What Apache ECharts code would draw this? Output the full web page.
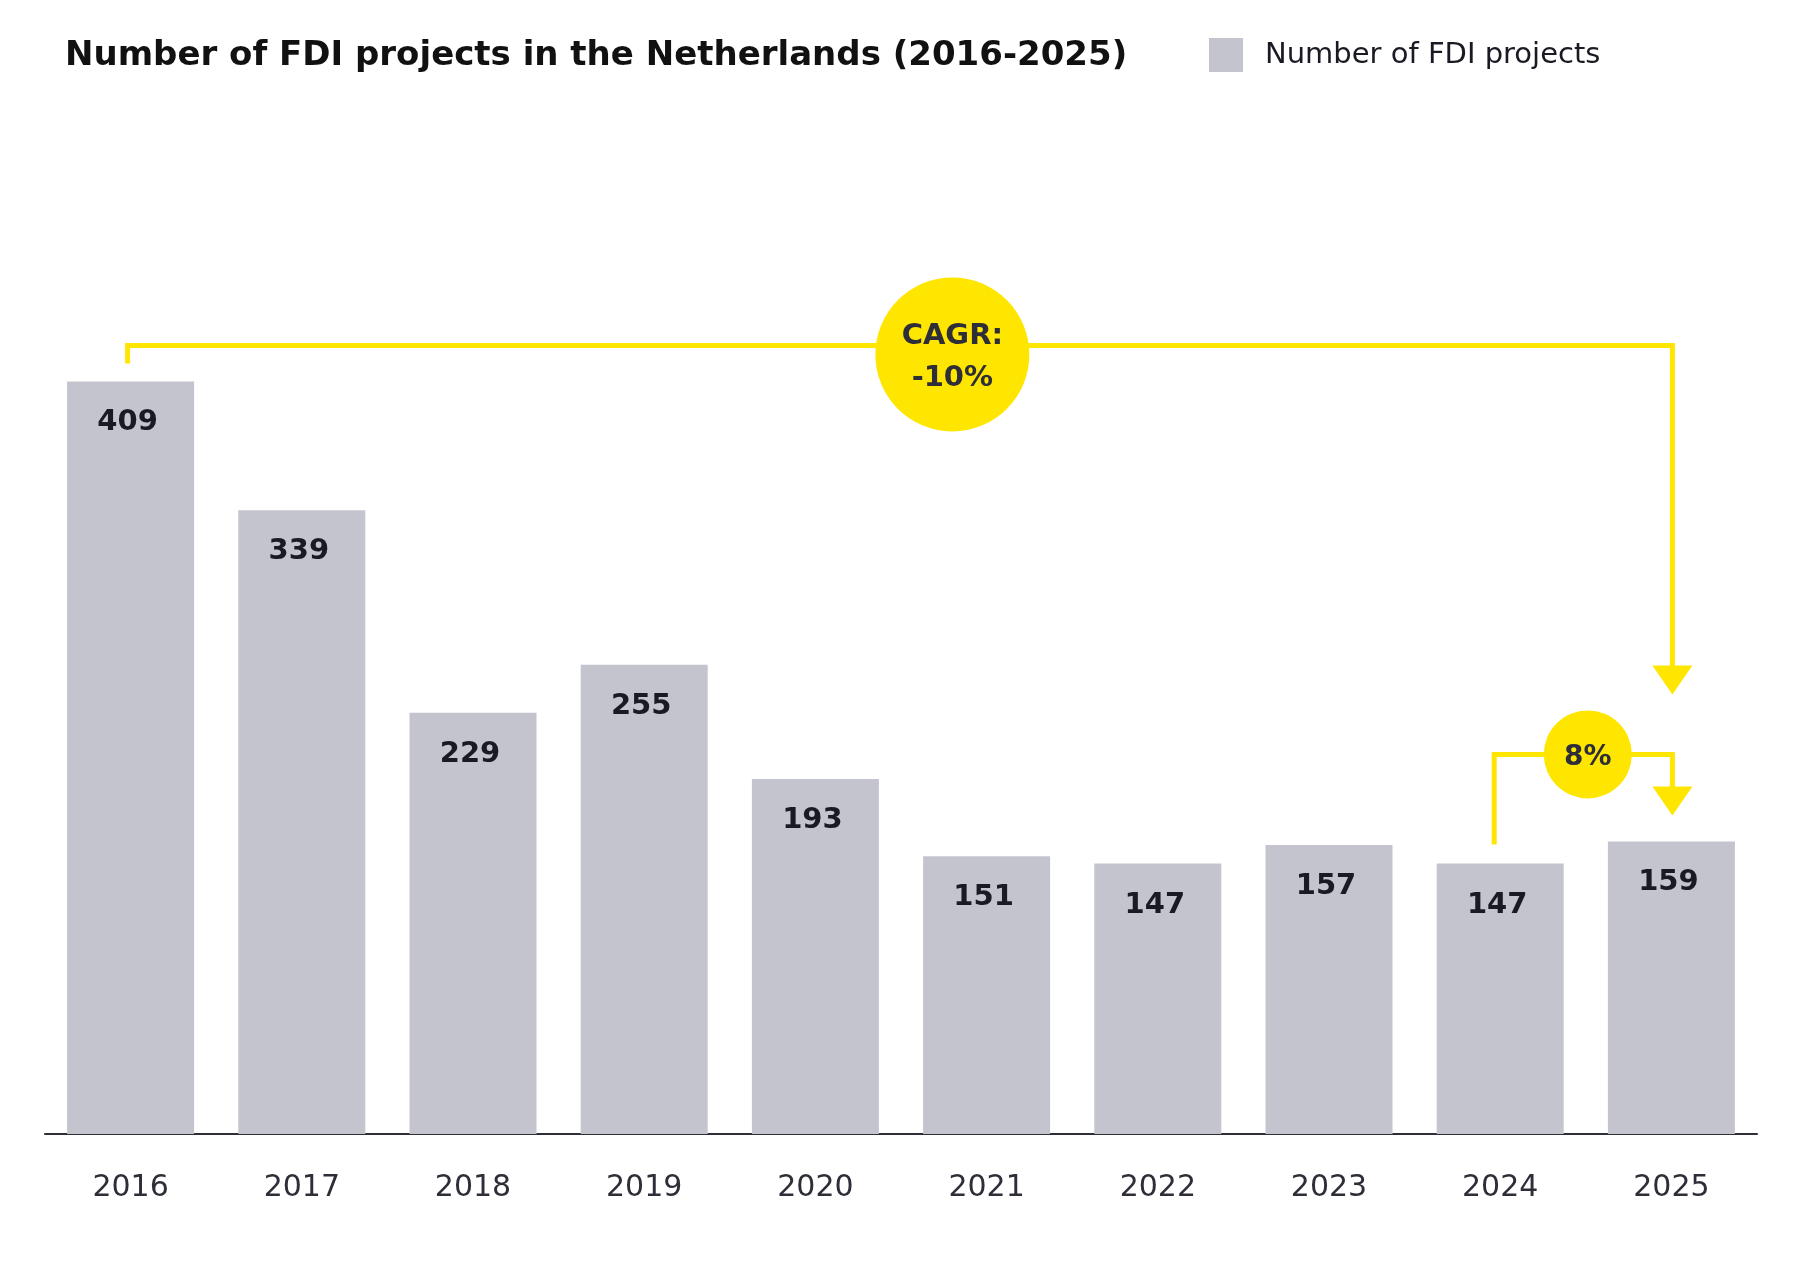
<!DOCTYPE html>
<html>
<head>
<meta charset="utf-8">
<title>FDI projects in the Netherlands</title>
<script src="https://cdn.jsdelivr.net/npm/echarts@6/dist/echarts.min.js"></script>
<style>
  html, body { margin: 0; padding: 0; background: #fff; }
  #chart { width: 1802px; height: 1261px; }
</style>
</head>
<body>
<div id="chart"></div>
<script>
// data
var years = ['2016', '2017', '2018', '2019', '2020', '2021', '2022', '2023', '2024', '2025'];
var fdiProjects = [409, 339, 229, 255, 193, 151, 147, 157, 147, 159];
var cagrText = ['CAGR:', '-10%'];
var yoyText = '8%';

var yellow = '#ffe600';
var dark = '#2e2e38';

var chart = echarts.init(document.getElementById('chart'));

var option = {
  backgroundColor: '#ffffff',
  animation: false,
  title: {
    text: 'Number of FDI projects in the Netherlands (2016-2025)',
    left: 65,
    top: 39,
    padding: 0,
    textStyle: {
      fontFamily: 'DejaVu Sans',
      fontWeight: 'bold',
      fontSize: 34,
      color: '#111111'
    }
  },
  // 图例
  legend: {
    data: ['Number of FDI projects'],
    left: 1209,
    top: 38,
    padding: 0,
    icon: 'rect',
    itemWidth: 34,
    itemHeight: 34,
    textStyle: {
      fontFamily: 'DejaVu Sans',
      fontSize: 29,
      color: '#1a1a24',
      padding: [13, 0, 0, 17]
    }
  },
  grid: {
    left: 45,
    width: 1712,
    top: 214,
    height: 920
  },
  xAxis: {
    type: 'category',
    data: years,
    axisLine: { lineStyle: { color: dark, width: 2 } },
    axisTick: { show: false },
    axisLabel: {
      margin: 39,
      fontFamily: 'DejaVu Sans',
      fontSize: 30,
      color: dark
    }
  },
  yAxis: {
    type: 'value',
    min: 0,
    max: 500,
    show: false,
    splitLine: { show: false }
  },
  series: [{
    name: 'Number of FDI projects',
    type: 'bar',
    data: fdiProjects,
    barWidth: 127,
    itemStyle: { color: '#c4c4ce' },
    label: {
      show: true,
      position: 'insideTop',
      distance: 27,
      offset: [-3, 0],
      fontFamily: 'DejaVu Sans',
      fontWeight: 'bold',
      fontSize: 29,
      color: '#1a1a24'
    }
  }]
};

chart.setOption(option);

// annotation brackets, placed from the axis scales
function px(i) {
  return chart.convertToPixel({ xAxisIndex: 0, yAxisIndex: 0 }, [i, fdiProjects[i]]);
}
var last = years.length - 1;
var pFirst = px(0);
var pPrev = px(last - 1);
var pLast = px(last);
var p4 = px(4), p5 = px(5);

var bigY = pFirst[1] - 36;
var smallY = pLast[1] - 87;
var bigTip = smallY - 60;
var smallTip = pLast[1] - 26;
var arrowH = 29, arrowW = 20;
var rightX = pLast[0] + 1;

function arrow(x, tipY) {
  return {
    type: 'polygon',
    z: 10,
    shape: { points: [[x - arrowW, tipY - arrowH], [x + arrowW, tipY - arrowH], [x, tipY]] },
    style: { fill: yellow }
  };
}

var cagrX = p4[0] + (p5[0] - p4[0]) * 0.8;
var cagrY = bigY + 9;
var yoyX = (pPrev[0] + pLast[0]) / 2 + 2;

var graphics = [
  {
    type: 'polyline', z: 10,
    shape: { points: [[pFirst[0] - 3, pFirst[1] - 18], [pFirst[0] - 3, bigY], [rightX, bigY], [rightX, bigTip - arrowH + 2]] },
    style: { stroke: yellow, lineWidth: 5, fill: null, lineJoin: 'miter' }
  },
  arrow(rightX, bigTip),
  {
    type: 'polyline', z: 10,
    shape: { points: [[pPrev[0] - 6, pPrev[1] - 19], [pPrev[0] - 6, smallY], [rightX, smallY], [rightX, smallTip - arrowH + 2]] },
    style: { stroke: yellow, lineWidth: 5, fill: null, lineJoin: 'miter' }
  },
  arrow(rightX, smallTip),
  {
    type: 'circle', z: 11,
    shape: { cx: cagrX, cy: cagrY, r: 77 },
    style: { fill: yellow }
  },
  {
    type: 'text', z: 12,
    style: {
      x: cagrX, y: cagrY - 18, text: cagrText[0],
      fill: dark, font: 'bold 29px "DejaVu Sans"',
      align: 'center', verticalAlign: 'middle'
    }
  },
  {
    type: 'text', z: 12,
    style: {
      x: cagrX, y: cagrY + 24, text: cagrText[1],
      fill: dark, font: 'bold 29px "DejaVu Sans"',
      align: 'center', verticalAlign: 'middle'
    }
  },
  {
    type: 'circle', z: 11,
    shape: { cx: yoyX, cy: smallY, r: 44 },
    style: { fill: yellow }
  },
  {
    type: 'text', z: 12,
    style: {
      x: yoyX, y: smallY + 3, text: yoyText,
      fill: dark, font: 'bold 28px "DejaVu Sans"',
      align: 'center', verticalAlign: 'middle'
    }
  }
];

chart.setOption({ graphic: graphics });
</script>
</body>
</html>
